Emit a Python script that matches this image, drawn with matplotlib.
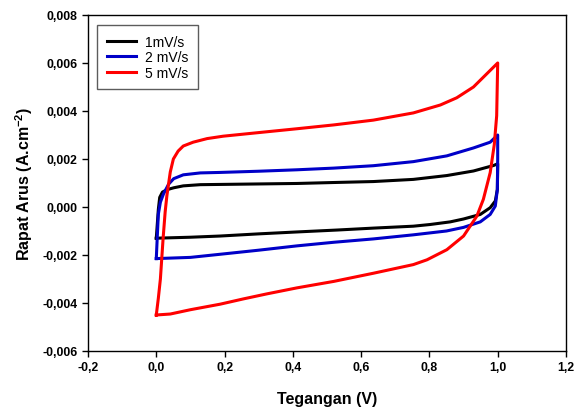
import matplotlib
matplotlib.use("Agg")
import matplotlib.pyplot as plt
from matplotlib.ticker import FuncFormatter, MultipleLocator

plt.rcParams['font.family'] = ['Liberation Sans', 'DejaVu Sans']
plt.rcParams['mathtext.fontset'] = 'custom'
plt.rcParams['mathtext.rm'] = 'Liberation Sans'
plt.rcParams['mathtext.bf'] = 'Liberation Sans:bold'

# 1 mV/s cycle (V, A/cm2)
v1 = [0.0, 0.003, 0.006, 0.01, 0.018, 0.031, 0.051, 0.079, 0.129, 0.187, 0.3, 0.412, 0.52, 0.636,
      0.753, 0.851, 0.929, 0.988, 1.0,
      1.0, 0.999, 0.993, 0.978, 0.949, 0.9, 0.861, 0.802, 0.753, 0.636, 0.53, 0.412, 0.3, 0.187, 0.1, 0.0]
j1 = [-0.0013, -0.0007, -0.0001, 0.0004, 0.00062, 0.00072, 0.0008, 0.00088, 0.00093, 0.00094, 0.00096,
      0.00098, 0.00102, 0.00106, 0.00115, 0.00131, 0.0015, 0.00173, 0.0018,
      0.0017, 0.00073, 0.00025, -0.00003, -0.00031, -0.0005, -0.00062, -0.00073, -0.0008, -0.00088,
      -0.00096, -0.00104, -0.00112, -0.00121, -0.00126, -0.0013]

# 2 mV/s cycle
v2 = [0.0, 0.003, 0.006, 0.012, 0.021, 0.036, 0.051, 0.079, 0.129, 0.187, 0.3, 0.412, 0.52, 0.636,
      0.753, 0.851, 0.929, 0.978, 1.0,
      1.0, 1.0, 0.999, 0.993, 0.978, 0.949, 0.9, 0.85, 0.753, 0.636, 0.52, 0.412, 0.3, 0.187, 0.1, 0.0]
j2 = [-0.00215, -0.0012, -0.0003, 0.0002, 0.00054, 0.00095, 0.00118, 0.00134, 0.00142, 0.00144, 0.00149,
      0.00155, 0.00162, 0.00172, 0.00189, 0.00213, 0.00246, 0.0027, 0.003,
      0.0029, 0.002, 0.00073, 0.00004, -0.00031, -0.00062, -0.00085, -0.001, -0.00116, -0.00133,
      -0.00147, -0.00162, -0.0018, -0.00197, -0.0021, -0.00215]

# 5 mV/s cycle
v5 = [0.0, 0.006, 0.012, 0.02, 0.026, 0.031, 0.041, 0.05, 0.064, 0.079, 0.108, 0.149, 0.196, 0.3,
      0.412, 0.52, 0.636, 0.753, 0.832, 0.88, 0.929, 1.0,
      0.997, 0.99, 0.978, 0.958, 0.939, 0.9, 0.851, 0.793, 0.753, 0.636, 0.52, 0.412, 0.324, 0.255,
      0.187, 0.1, 0.041, 0.0]
j5 = [-0.0045, -0.0038, -0.003, -0.0013, -0.0002, 0.00047, 0.00146, 0.002, 0.00233, 0.00254, 0.0027,
      0.00285, 0.00295, 0.0031, 0.00326, 0.00342, 0.00362, 0.00392, 0.00425, 0.00455, 0.005, 0.006,
      0.0038, 0.0026, 0.00143, 0.00032, -0.00038, -0.00121, -0.00178, -0.0022, -0.0024, -0.00276,
      -0.0031, -0.00337, -0.00362, -0.00383, -0.00405, -0.00428, -0.00446, -0.0045]

labels = ['1mV/s', '2 mV/s', '5 mV/s']
colors = ['#000000', '#0000C8', '#FF0000']

fig = plt.figure(figsize=(5.76, 4.10), dpi=100)
ax = fig.add_axes([0.1528, 0.1415, 0.8298, 0.8195])

for v, j, lab, c in zip([v1, v2, v5], [j1, j2, j5], labels, colors):
    ax.plot(v, j, color=c, lw=2.2, label=lab, solid_joinstyle='round')

ax.set_xlim(-0.2, 1.2)
ax.set_ylim(-0.006, 0.008)
ax.xaxis.set_major_locator(MultipleLocator(0.2))
ax.yaxis.set_major_locator(MultipleLocator(0.002))
ax.xaxis.set_major_formatter(FuncFormatter(lambda x, p: f"{x:.1f}".replace('.', ',')))
ax.yaxis.set_major_formatter(FuncFormatter(lambda y, p: f"{y:.3f}".replace('.', ',')))
ax.tick_params(direction='out', length=4, width=1, labelsize=8.8)
for lbl in ax.get_xticklabels() + ax.get_yticklabels():
    lbl.set_fontweight('bold')
for s in ax.spines.values():
    s.set_linewidth(1.0)

ax.set_xlabel('Tegangan (V)', fontsize=11.5, fontweight='bold', labelpad=13)
ax.set_ylabel(r'Rapat Arus (A.cm$^{\mathbf{-2}}$)', fontsize=11.5, fontweight='bold', labelpad=5)

leg = ax.legend(loc='upper left', bbox_to_anchor=(0.019, 0.970), borderaxespad=0, fontsize=10,
                frameon=True, fancybox=False, edgecolor='#333333', handlelength=2.1,
                handletextpad=0.65, borderpad=0.7, labelspacing=0.1)
leg.get_frame().set_linewidth(1.0)

fig.savefig('out.png', dpi=100)
